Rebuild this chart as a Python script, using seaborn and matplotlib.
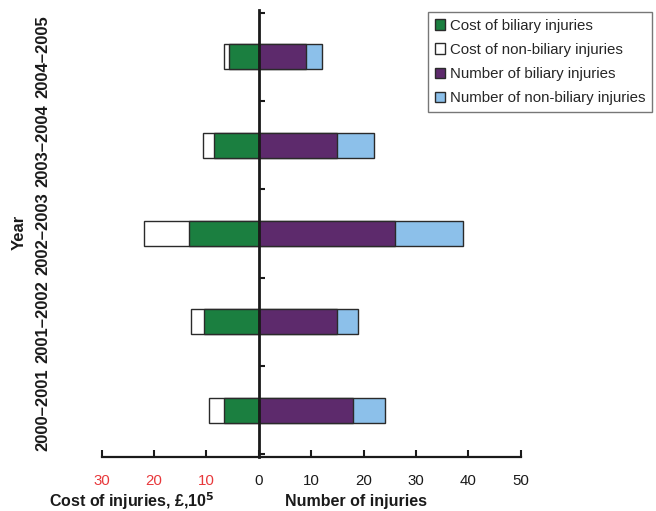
import matplotlib
matplotlib.use("Agg")
import matplotlib.pyplot as plt
import matplotlib.transforms as mtransforms
from matplotlib.patches import Patch
import seaborn as sns
import pandas as pd

years = ['2000–2001', '2001–2002', '2002–2003', '2003–2004', '2004–2005']
cost_biliary = [6.7, 10.5, 13.3, 8.5, 5.6]
cost_nonbiliary = [2.8, 2.5, 8.6, 2.2, 1.1]
num_biliary = [18, 15, 26, 15, 9]
num_nonbiliary = [6, 4, 13, 7, 3]
xticks = [-30, -20, -10, 0, 10, 20, 30, 40, 50]

sns.set_theme(style="white")
plt.rcParams['font.family'] = ['Liberation Sans', 'DejaVu Sans']

df = pd.DataFrame({
    'year': years,
    'cost_total': [-(a + b) for a, b in zip(cost_biliary, cost_nonbiliary)],
    'cost_bil': [-a for a in cost_biliary],
    'num_total': [a + b for a, b in zip(num_biliary, num_nonbiliary)],
    'num_bil': num_biliary,
})
order = years[::-1]

GREEN = '#1b7f40'
PURPLE = '#5d2a6c'
BLUE = '#8cc0ea'
EDGE = '#2a2a2a'
DARK = '#1a1a1a'

fig = plt.figure(figsize=(6.56, 5.11), dpi=100)
ax = fig.add_axes([101.7 / 656, 1 - 457 / 511, 419 / 656, 447 / 511])

kw = dict(orient='h', order=order, width=0.28, edgecolor=EDGE, linewidth=1.0,
          errorbar=None, ax=ax)
sns.barplot(data=df, x='cost_total', y='year', color='white', **kw)
sns.barplot(data=df, x='cost_bil', y='year', color=GREEN, saturation=1, **kw)
sns.barplot(data=df, x='num_total', y='year', color=BLUE, saturation=1, **kw)
sns.barplot(data=df, x='num_bil', y='year', color=PURPLE, saturation=1, **kw)

ax.set_xlim(-30, 50)
ax.set_ylim(4.53, -0.53)
ax.set_xlabel('')
ax.set_ylabel('')

for s in ['top', 'right']:
    ax.spines[s].set_visible(False)
ax.spines['left'].set_position(('data', 0))
ax.spines['left'].set_linewidth(2.0)
ax.spines['left'].set_color(DARK)
ax.spines['left'].set_zorder(5)
ax.spines['bottom'].set_linewidth(1.6)
ax.spines['bottom'].set_color(DARK)

yt = [i * 0.5 - 0.5 for i in range(11)]
ax.set_yticks(yt)
ax.set_yticklabels([''] * len(yt))
ax.tick_params(axis='y', direction='in', length=4, width=1.5, color=DARK, left=True)

ax.set_xticks(xticks)
ax.set_xticklabels([str(abs(v)) for v in xticks], fontsize=10.8)
ax.tick_params(axis='x', direction='in', length=5, width=1.5, color=DARK,
               bottom=True, pad=12.5)
for lab, v in zip(ax.get_xticklabels(), xticks):
    lab.set_color('#e8383b' if v < 0 else DARK)

# year labels along the left
tr = mtransforms.blended_transform_factory(fig.transFigure, ax.transData)
for i, y in enumerate(order):
    ax.text(43 / 656, i, y, rotation=90, ha='center', va='center',
            fontsize=12, fontweight='bold', color=DARK, transform=tr)
fig.text(19 / 656, 1 - 232 / 511, 'Year', rotation=90, ha='center', va='center',
         fontsize=12, fontweight='bold', color=DARK)

fig.text(132 / 656, 1 - 501 / 511, 'Cost of injuries, £,10$^{\\mathbf{5}}$', ha='center', va='center',
         fontsize=11.5, fontweight='bold', color=DARK)
fig.text(356 / 656, 1 - 501 / 511, 'Number of injuries', ha='center', va='center',
         fontsize=11.5, fontweight='bold', color=DARK)

handles = [Patch(facecolor=GREEN, edgecolor=EDGE, label='Cost of biliary injuries'),
           Patch(facecolor='white', edgecolor=EDGE, label='Cost of non-biliary injuries'),
           Patch(facecolor=PURPLE, edgecolor=EDGE, label='Number of biliary injuries'),
           Patch(facecolor=BLUE, edgecolor=EDGE, label='Number of non-biliary injuries')]
leg = fig.legend(handles=handles, loc='upper right', bbox_to_anchor=(652 / 656, 1 - 12 / 511),
                 fontsize=10.8, frameon=True, fancybox=False, handlelength=0.7,
                 handleheight=0.7, handletextpad=0.3, labelspacing=0.68,
                 borderpad=0.45, borderaxespad=0)
leg.get_frame().set_edgecolor('#555555')
leg.get_frame().set_linewidth(1.0)

fig.savefig('out.png', dpi=100)
